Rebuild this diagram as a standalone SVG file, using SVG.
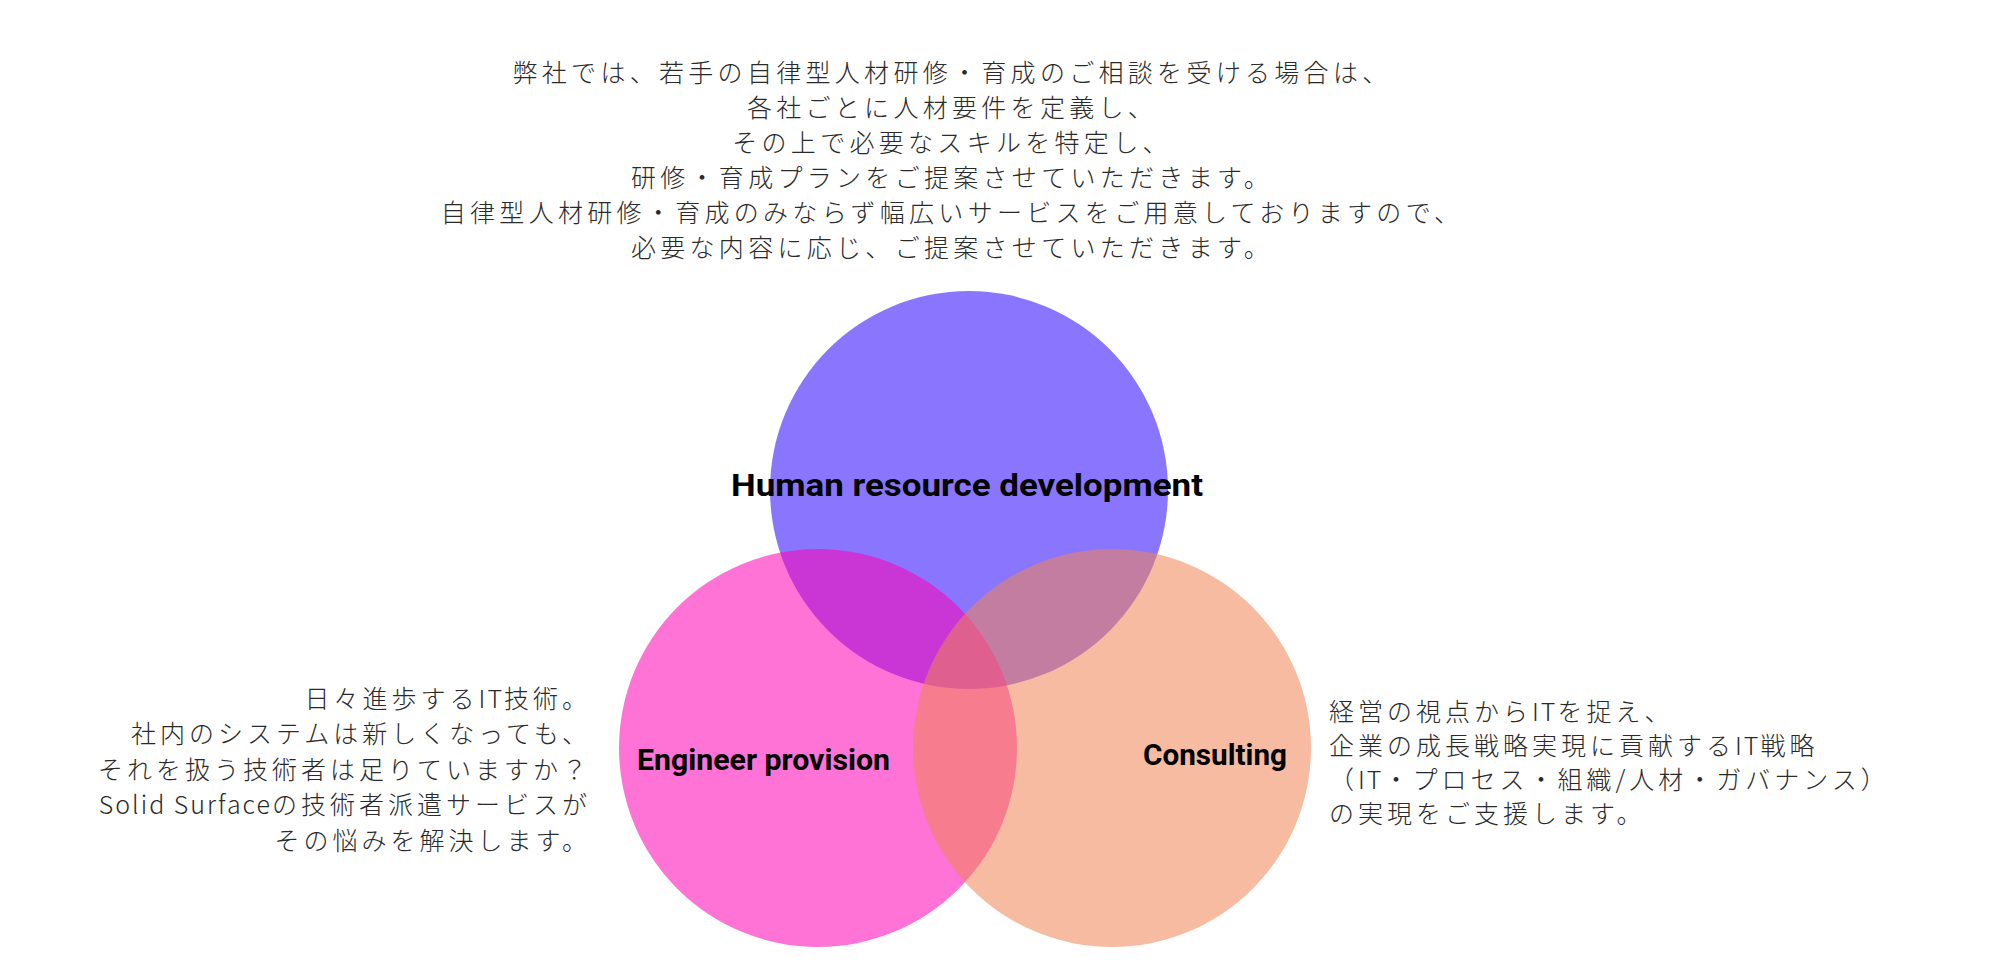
<svg xmlns="http://www.w3.org/2000/svg" width="2000" height="973" viewBox="0 0 2000 973">
<style>
.bg{fill:#ffffff}
.c{opacity:0.55}
.lbl{font-family:Roboto,"Liberation Sans",sans-serif;font-weight:700;fill:#000000}
.jp{font-family:"Noto Sans CJK JP","Noto Sans",sans-serif;font-weight:300;fill:#2a2a2a}
.top{text-anchor:middle;font-size:25px;letter-spacing:4.3px}
.left{text-anchor:end;font-size:25px;letter-spacing:4px}
.right{text-anchor:start;font-size:25px;letter-spacing:4px}
.lat{letter-spacing:2px}
</style>
<rect class="bg" x="0" y="0" width="2000" height="973"/>
<g id="intro">
<text class="jp top" x="952" y="82">弊社では、若手の自律型人材研修・育成のご相談を受ける場合は、</text>
<text class="jp top" x="952" y="117">各社ごとに人材要件を定義し、</text>
<text class="jp top" x="952" y="152">その上で必要なスキルを特定し、</text>
<text class="jp top" x="952" y="187">研修・育成プランをご提案させていただきます。</text>
<text class="jp top" x="952" y="222">自律型人材研修・育成のみならず幅広いサービスをご用意しておりますので、</text>
<text class="jp top" x="952" y="257">必要な内容に応じ、ご提案させていただきます。</text>
</g>
<g id="node-hr">
<circle class="c" cx="969" cy="490" r="199" fill="#2A06FD"/>
<text class="lbl" x="731" y="496" font-size="32" textLength="472" lengthAdjust="spacingAndGlyphs">Human resource development</text>
</g>
<g id="node-engineer">
<circle class="c" cx="818" cy="748" r="199" fill="#FF00B4"/>
<text class="lbl" x="637" y="770" font-size="30" textLength="253" lengthAdjust="spacingAndGlyphs">Engineer provision</text>
</g>
<g id="node-consulting">
<circle class="c" cx="1112" cy="748" r="199" fill="#F08354"/>
<text class="lbl" x="1143" y="765" font-size="30" textLength="144" lengthAdjust="spacingAndGlyphs">Consulting</text>
</g>
<g id="engineer-desc">
<text class="jp left" x="591" y="708">日々進歩する<tspan class="lat">IT</tspan>技術。</text>
<text class="jp left" x="591" y="743">社内のシステムは新しくなっても、</text>
<text class="jp left" x="591" y="779">それを扱う技術者は足りていますか？</text>
<text class="jp left" x="591" y="814"><tspan class="lat">Solid Surface</tspan>の技術者派遣サービスが</text>
<text class="jp left" x="591" y="850">その悩みを解決します。</text>
</g>
<g id="consulting-desc">
<text class="jp right" x="1329" y="721">経営の視点から<tspan class="lat">IT</tspan>を捉え、</text>
<text class="jp right" x="1329" y="755">企業の成長戦略実現に貢献する<tspan class="lat">IT</tspan>戦略</text>
<text class="jp right" x="1329" y="789">（<tspan class="lat">IT</tspan>・プロセス・組織/人材・ガバナンス）</text>
<text class="jp right" x="1329" y="823">の実現をご支援します。</text>
</g>
<g id="connectors"></g>
</svg>
